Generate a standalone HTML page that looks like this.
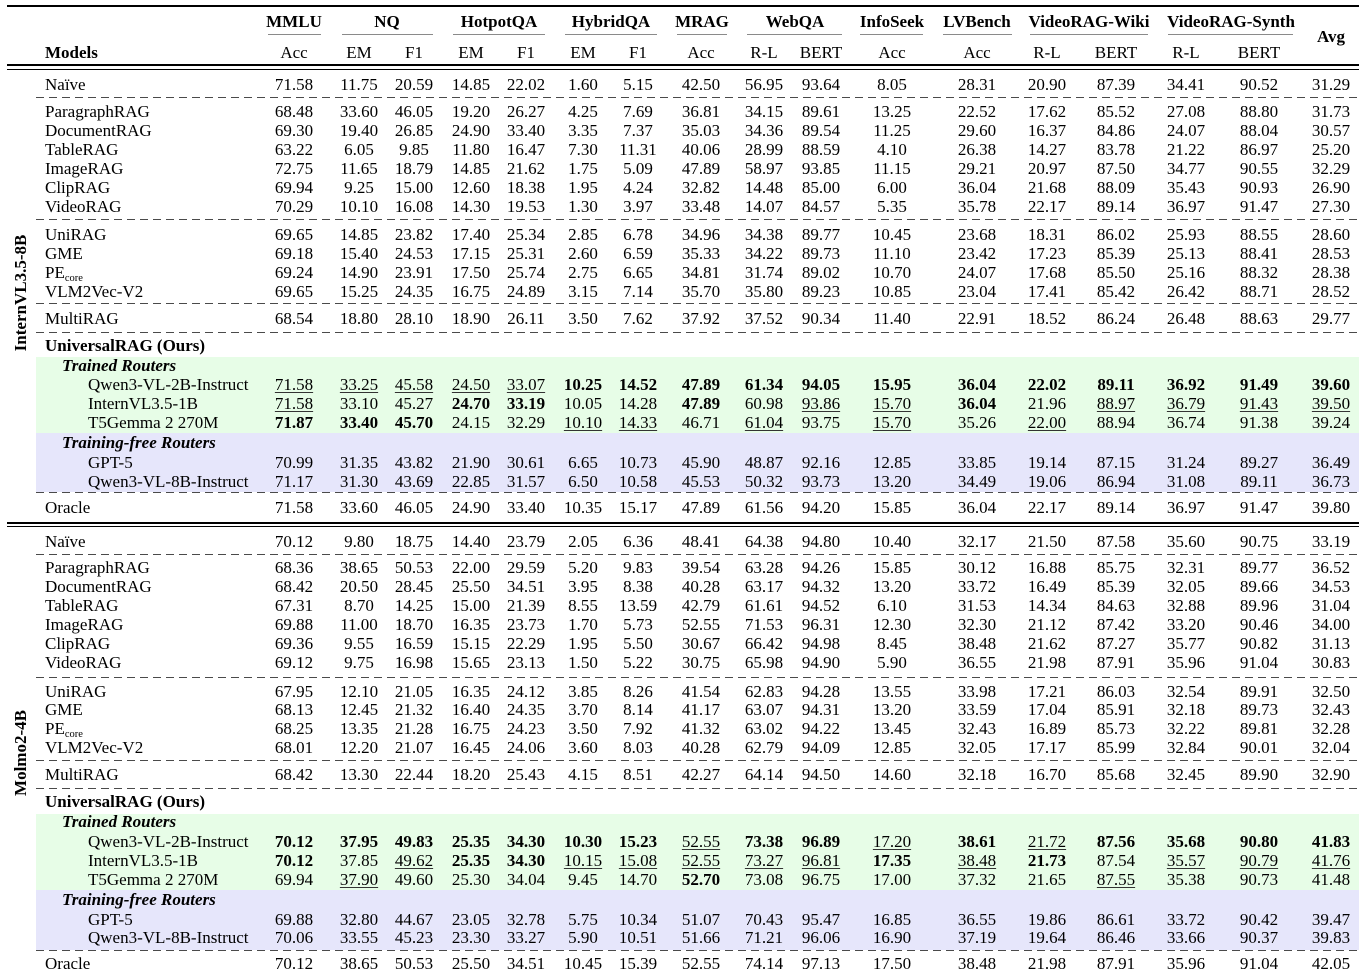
<!DOCTYPE html>
<html><head><meta charset="utf-8">
<style>
body{margin:0;width:1362px;height:975px;background:#fff;position:relative;overflow:hidden;font-family:"Liberation Serif","Times New Roman",serif;font-size:17px;color:#000}
.r{position:absolute;left:0;width:1362px;height:19px;line-height:19px;white-space:nowrap}
.r i{position:absolute;top:0;width:80px;margin-left:-40px;text-align:center;font-style:normal}
.r i:nth-of-type(1){left:294px}.r i:nth-of-type(2){left:359px}.r i:nth-of-type(3){left:414px}
.r i:nth-of-type(4){left:471px}.r i:nth-of-type(5){left:526px}.r i:nth-of-type(6){left:583px}
.r i:nth-of-type(7){left:638px}.r i:nth-of-type(8){left:701px}.r i:nth-of-type(9){left:764px}
.r i:nth-of-type(10){left:821px}.r i:nth-of-type(11){left:892px}.r i:nth-of-type(12){left:977px}
.r i:nth-of-type(13){left:1047px}.r i:nth-of-type(14){left:1116px}.r i:nth-of-type(15){left:1186px}
.r i:nth-of-type(16){left:1259px}.r i:nth-of-type(17){left:1331px}
.r span{position:absolute;left:45px;top:0}
.r span.s{left:88px}
.r span.g{left:62px;font-weight:bold;font-style:italic}
.r span.bb{font-weight:bold}
u{text-decoration:underline;text-decoration-thickness:1px;text-underline-offset:2px;text-decoration-color:#333}
sub{font-size:10.5px;vertical-align:-3px;line-height:0}
.hd{position:absolute;height:19px;line-height:19px;width:160px;margin-left:-80px;text-align:center;font-weight:bold;white-space:nowrap}
.sh{position:absolute;height:19px;line-height:19px;width:80px;margin-left:-40px;text-align:center;top:42.5px}
.ln{position:absolute;background:#000}
.cm{position:absolute;top:34px;height:1.3px;background:#8a8a8a}
.d{position:absolute;left:36px;width:1323px;height:1.2px;background:repeating-linear-gradient(90deg,#4a4a4a 0 8px,transparent 8px 13px)}
.gr{position:absolute;left:36px;width:1323px;background:#e7fde7}
.bl{position:absolute;left:36px;width:1323px;background:#e6e6fb}
.rot{position:absolute;width:200px;height:20px;line-height:20px;text-align:center;font-weight:bold;transform:rotate(-90deg);white-space:nowrap}
</style></head><body>

<!-- backgrounds -->
<div class="gr" style="top:357px;height:76px"></div>
<div class="bl" style="top:433px;height:59px"></div>
<div class="gr" style="top:814px;height:76px"></div>
<div class="bl" style="top:890px;height:60px"></div>

<!-- rules -->
<div class="ln" style="left:7px;width:1352px;top:5px;height:2px"></div>
<div class="ln" style="left:7px;width:1352px;top:64px;height:2px"></div>
<div class="ln" style="left:7px;width:1352px;top:68.5px;height:1px"></div>
<div class="ln" style="left:7px;width:1352px;top:522px;height:2px"></div>
<div class="ln" style="left:7px;width:1352px;top:526px;height:1px"></div>

<div class="cm" style="left:268px;width:53px"></div>
<div class="cm" style="left:342px;width:91px"></div>
<div class="cm" style="left:453px;width:92px"></div>
<div class="cm" style="left:565px;width:92px"></div>
<div class="cm" style="left:677px;width:50px"></div>
<div class="cm" style="left:747px;width:95px"></div>
<div class="cm" style="left:860px;width:63px"></div>
<div class="cm" style="left:943px;width:69px"></div>
<div class="cm" style="left:1030px;width:118px"></div>
<div class="cm" style="left:1168px;width:125px"></div>

<div class="d" style="top:97px"></div>
<div class="d" style="top:219px"></div>
<div class="d" style="top:303px"></div>
<div class="d" style="top:332px"></div>
<div class="d" style="top:492px"></div>
<div class="d" style="top:554px"></div>
<div class="d" style="top:677px"></div>
<div class="d" style="top:760px"></div>
<div class="d" style="top:788px"></div>
<div class="d" style="top:950px"></div>

<!-- header -->
<div class="hd" style="left:294px;top:11.5px">MMLU</div>
<div class="hd" style="left:387px;top:11.5px">NQ</div>
<div class="hd" style="left:499px;top:11.5px">HotpotQA</div>
<div class="hd" style="left:611px;top:11.5px">HybridQA</div>
<div class="hd" style="left:702px;top:11.5px">MRAG</div>
<div class="hd" style="left:795px;top:11.5px">WebQA</div>
<div class="hd" style="left:892px;top:11.5px">InfoSeek</div>
<div class="hd" style="left:977px;top:11.5px">LVBench</div>
<div class="hd" style="left:1089px;top:11.5px">VideoRAG-Wiki</div>
<div class="hd" style="left:1231px;top:11.5px">VideoRAG-Synth</div>
<div class="hd" style="left:1331px;top:26.5px">Avg</div>
<div style="position:absolute;left:45px;top:42.5px;height:19px;line-height:19px;font-weight:bold">Models</div>
<div class="sh" style="left:294px">Acc</div>
<div class="sh" style="left:359px">EM</div>
<div class="sh" style="left:414px">F1</div>
<div class="sh" style="left:471px">EM</div>
<div class="sh" style="left:526px">F1</div>
<div class="sh" style="left:583px">EM</div>
<div class="sh" style="left:638px">F1</div>
<div class="sh" style="left:701px">Acc</div>
<div class="sh" style="left:764px">R-L</div>
<div class="sh" style="left:821px">BERT</div>
<div class="sh" style="left:892px">Acc</div>
<div class="sh" style="left:977px">Acc</div>
<div class="sh" style="left:1047px">R-L</div>
<div class="sh" style="left:1116px">BERT</div>
<div class="sh" style="left:1186px">R-L</div>
<div class="sh" style="left:1259px">BERT</div>

<!-- rotated labels -->
<div class="rot" style="left:-79px;top:283px">InternVL3.5-8B</div>
<div class="rot" style="left:-79px;top:743px">Molmo2-4B</div>

<!-- Section 1 -->
<div class="r" style="top:75px"><span>Naïve</span><i>71.58</i><i>11.75</i><i>20.59</i><i>14.85</i><i>22.02</i><i>1.60</i><i>5.15</i><i>42.50</i><i>56.95</i><i>93.64</i><i>8.05</i><i>28.31</i><i>20.90</i><i>87.39</i><i>34.41</i><i>90.52</i><i>31.29</i></div>
<div class="r" style="top:101.5px"><span>ParagraphRAG</span><i>68.48</i><i>33.60</i><i>46.05</i><i>19.20</i><i>26.27</i><i>4.25</i><i>7.69</i><i>36.81</i><i>34.15</i><i>89.61</i><i>13.25</i><i>22.52</i><i>17.62</i><i>85.52</i><i>27.08</i><i>88.80</i><i>31.73</i></div>
<div class="r" style="top:120.5px"><span>DocumentRAG</span><i>69.30</i><i>19.40</i><i>26.85</i><i>24.90</i><i>33.40</i><i>3.35</i><i>7.37</i><i>35.03</i><i>34.36</i><i>89.54</i><i>11.25</i><i>29.60</i><i>16.37</i><i>84.86</i><i>24.07</i><i>88.04</i><i>30.57</i></div>
<div class="r" style="top:139.5px"><span>TableRAG</span><i>63.22</i><i>6.05</i><i>9.85</i><i>11.80</i><i>16.47</i><i>7.30</i><i>11.31</i><i>40.06</i><i>28.99</i><i>88.59</i><i>4.10</i><i>26.38</i><i>14.27</i><i>83.78</i><i>21.22</i><i>86.97</i><i>25.20</i></div>
<div class="r" style="top:158.5px"><span>ImageRAG</span><i>72.75</i><i>11.65</i><i>18.79</i><i>14.85</i><i>21.62</i><i>1.75</i><i>5.09</i><i>47.89</i><i>58.97</i><i>93.85</i><i>11.15</i><i>29.21</i><i>20.97</i><i>87.50</i><i>34.77</i><i>90.55</i><i>32.29</i></div>
<div class="r" style="top:177.5px"><span>ClipRAG</span><i>69.94</i><i>9.25</i><i>15.00</i><i>12.60</i><i>18.38</i><i>1.95</i><i>4.24</i><i>32.82</i><i>14.48</i><i>85.00</i><i>6.00</i><i>36.04</i><i>21.68</i><i>88.09</i><i>35.43</i><i>90.93</i><i>26.90</i></div>
<div class="r" style="top:196.5px"><span>VideoRAG</span><i>70.29</i><i>10.10</i><i>16.08</i><i>14.30</i><i>19.53</i><i>1.30</i><i>3.97</i><i>33.48</i><i>14.07</i><i>84.57</i><i>5.35</i><i>35.78</i><i>22.17</i><i>89.14</i><i>36.97</i><i>91.47</i><i>27.30</i></div>
<div class="r" style="top:225px"><span>UniRAG</span><i>69.65</i><i>14.85</i><i>23.82</i><i>17.40</i><i>25.34</i><i>2.85</i><i>6.78</i><i>34.96</i><i>34.38</i><i>89.77</i><i>10.45</i><i>23.68</i><i>18.31</i><i>86.02</i><i>25.93</i><i>88.55</i><i>28.60</i></div>
<div class="r" style="top:243.5px"><span>GME</span><i>69.18</i><i>15.40</i><i>24.53</i><i>17.15</i><i>25.31</i><i>2.60</i><i>6.59</i><i>35.33</i><i>34.22</i><i>89.73</i><i>11.10</i><i>23.42</i><i>17.23</i><i>85.39</i><i>25.13</i><i>88.41</i><i>28.53</i></div>
<div class="r" style="top:262.5px"><span>PE<sub>core</sub></span><i>69.24</i><i>14.90</i><i>23.91</i><i>17.50</i><i>25.74</i><i>2.75</i><i>6.65</i><i>34.81</i><i>31.74</i><i>89.02</i><i>10.70</i><i>24.07</i><i>17.68</i><i>85.50</i><i>25.16</i><i>88.32</i><i>28.38</i></div>
<div class="r" style="top:281.5px"><span>VLM2Vec-V2</span><i>69.65</i><i>15.25</i><i>24.35</i><i>16.75</i><i>24.89</i><i>3.15</i><i>7.14</i><i>35.70</i><i>35.80</i><i>89.23</i><i>10.85</i><i>23.04</i><i>17.41</i><i>85.42</i><i>26.42</i><i>88.71</i><i>28.52</i></div>
<div class="r" style="top:308.5px"><span>MultiRAG</span><i>68.54</i><i>18.80</i><i>28.10</i><i>18.90</i><i>26.11</i><i>3.50</i><i>7.62</i><i>37.92</i><i>37.52</i><i>90.34</i><i>11.40</i><i>22.91</i><i>18.52</i><i>86.24</i><i>26.48</i><i>88.63</i><i>29.77</i></div>
<div class="r" style="top:335.5px"><span class="bb">UniversalRAG (Ours)</span></div>
<div class="r" style="top:355.5px"><span class="g">Trained Routers</span></div>
<div class="r" style="top:374.5px"><span class="s">Qwen3-VL-2B-Instruct</span><i><u>71.58</u></i><i><u>33.25</u></i><i><u>45.58</u></i><i><u>24.50</u></i><i><u>33.07</u></i><i><b>10.25</b></i><i><b>14.52</b></i><i><b>47.89</b></i><i><b>61.34</b></i><i><b>94.05</b></i><i><b>15.95</b></i><i><b>36.04</b></i><i><b>22.02</b></i><i><b>89.11</b></i><i><b>36.92</b></i><i><b>91.49</b></i><i><b>39.60</b></i></div>
<div class="r" style="top:393.5px"><span class="s">InternVL3.5-1B</span><i><u>71.58</u></i><i>33.10</i><i>45.27</i><i><b>24.70</b></i><i><b>33.19</b></i><i>10.05</i><i>14.28</i><i><b>47.89</b></i><i>60.98</i><i><u>93.86</u></i><i><u>15.70</u></i><i><b>36.04</b></i><i>21.96</i><i><u>88.97</u></i><i><u>36.79</u></i><i><u>91.43</u></i><i><u>39.50</u></i></div>
<div class="r" style="top:412.5px"><span class="s">T5Gemma 2 270M</span><i><b>71.87</b></i><i><b>33.40</b></i><i><b>45.70</b></i><i>24.15</i><i>32.29</i><i><u>10.10</u></i><i><u>14.33</u></i><i>46.71</i><i><u>61.04</u></i><i>93.75</i><i><u>15.70</u></i><i>35.26</i><i><u>22.00</u></i><i>88.94</i><i>36.74</i><i>91.38</i><i>39.24</i></div>
<div class="r" style="top:433px"><span class="g">Training-free Routers</span></div>
<div class="r" style="top:452.5px"><span class="s">GPT-5</span><i>70.99</i><i>31.35</i><i>43.82</i><i>21.90</i><i>30.61</i><i>6.65</i><i>10.73</i><i>45.90</i><i>48.87</i><i>92.16</i><i>12.85</i><i>33.85</i><i>19.14</i><i>87.15</i><i>31.24</i><i>89.27</i><i>36.49</i></div>
<div class="r" style="top:471.5px"><span class="s">Qwen3-VL-8B-Instruct</span><i>71.17</i><i>31.30</i><i>43.69</i><i>22.85</i><i>31.57</i><i>6.50</i><i>10.58</i><i>45.53</i><i>50.32</i><i>93.73</i><i>13.20</i><i>34.49</i><i>19.06</i><i>86.94</i><i>31.08</i><i>89.11</i><i>36.73</i></div>
<div class="r" style="top:498px"><span>Oracle</span><i>71.58</i><i>33.60</i><i>46.05</i><i>24.90</i><i>33.40</i><i>10.35</i><i>15.17</i><i>47.89</i><i>61.56</i><i>94.20</i><i>15.85</i><i>36.04</i><i>22.17</i><i>89.14</i><i>36.97</i><i>91.47</i><i>39.80</i></div>

<!-- Section 2 -->
<div class="r" style="top:531.5px"><span>Naïve</span><i>70.12</i><i>9.80</i><i>18.75</i><i>14.40</i><i>23.79</i><i>2.05</i><i>6.36</i><i>48.41</i><i>64.38</i><i>94.80</i><i>10.40</i><i>32.17</i><i>21.50</i><i>87.58</i><i>35.60</i><i>90.75</i><i>33.19</i></div>
<div class="r" style="top:558px"><span>ParagraphRAG</span><i>68.36</i><i>38.65</i><i>50.53</i><i>22.00</i><i>29.59</i><i>5.20</i><i>9.83</i><i>39.54</i><i>63.28</i><i>94.26</i><i>15.85</i><i>30.12</i><i>16.88</i><i>85.75</i><i>32.31</i><i>89.77</i><i>36.52</i></div>
<div class="r" style="top:577px"><span>DocumentRAG</span><i>68.42</i><i>20.50</i><i>28.45</i><i>25.50</i><i>34.51</i><i>3.95</i><i>8.38</i><i>40.28</i><i>63.17</i><i>94.32</i><i>13.20</i><i>33.72</i><i>16.49</i><i>85.39</i><i>32.05</i><i>89.66</i><i>34.53</i></div>
<div class="r" style="top:596px"><span>TableRAG</span><i>67.31</i><i>8.70</i><i>14.25</i><i>15.00</i><i>21.39</i><i>8.55</i><i>13.59</i><i>42.79</i><i>61.61</i><i>94.52</i><i>6.10</i><i>31.53</i><i>14.34</i><i>84.63</i><i>32.88</i><i>89.96</i><i>31.04</i></div>
<div class="r" style="top:615px"><span>ImageRAG</span><i>69.88</i><i>11.00</i><i>18.70</i><i>16.35</i><i>23.73</i><i>1.70</i><i>5.73</i><i>52.55</i><i>71.53</i><i>96.31</i><i>12.30</i><i>32.30</i><i>21.12</i><i>87.42</i><i>33.20</i><i>90.46</i><i>34.00</i></div>
<div class="r" style="top:634px"><span>ClipRAG</span><i>69.36</i><i>9.55</i><i>16.59</i><i>15.15</i><i>22.29</i><i>1.95</i><i>5.50</i><i>30.67</i><i>66.42</i><i>94.98</i><i>8.45</i><i>38.48</i><i>21.62</i><i>87.27</i><i>35.77</i><i>90.82</i><i>31.13</i></div>
<div class="r" style="top:653px"><span>VideoRAG</span><i>69.12</i><i>9.75</i><i>16.98</i><i>15.65</i><i>23.13</i><i>1.50</i><i>5.22</i><i>30.75</i><i>65.98</i><i>94.90</i><i>5.90</i><i>36.55</i><i>21.98</i><i>87.91</i><i>35.96</i><i>91.04</i><i>30.83</i></div>
<div class="r" style="top:681.5px"><span>UniRAG</span><i>67.95</i><i>12.10</i><i>21.05</i><i>16.35</i><i>24.12</i><i>3.85</i><i>8.26</i><i>41.54</i><i>62.83</i><i>94.28</i><i>13.55</i><i>33.98</i><i>17.21</i><i>86.03</i><i>32.54</i><i>89.91</i><i>32.50</i></div>
<div class="r" style="top:700px"><span>GME</span><i>68.13</i><i>12.45</i><i>21.32</i><i>16.40</i><i>24.35</i><i>3.70</i><i>8.14</i><i>41.17</i><i>63.07</i><i>94.31</i><i>13.20</i><i>33.59</i><i>17.04</i><i>85.91</i><i>32.18</i><i>89.73</i><i>32.43</i></div>
<div class="r" style="top:719px"><span>PE<sub>core</sub></span><i>68.25</i><i>13.35</i><i>21.28</i><i>16.75</i><i>24.23</i><i>3.50</i><i>7.92</i><i>41.32</i><i>63.02</i><i>94.22</i><i>13.45</i><i>32.43</i><i>16.89</i><i>85.73</i><i>32.22</i><i>89.81</i><i>32.28</i></div>
<div class="r" style="top:738px"><span>VLM2Vec-V2</span><i>68.01</i><i>12.20</i><i>21.07</i><i>16.45</i><i>24.06</i><i>3.60</i><i>8.03</i><i>40.28</i><i>62.79</i><i>94.09</i><i>12.85</i><i>32.05</i><i>17.17</i><i>85.99</i><i>32.84</i><i>90.01</i><i>32.04</i></div>
<div class="r" style="top:764.5px"><span>MultiRAG</span><i>68.42</i><i>13.30</i><i>22.44</i><i>18.20</i><i>25.43</i><i>4.15</i><i>8.51</i><i>42.27</i><i>64.14</i><i>94.50</i><i>14.60</i><i>32.18</i><i>16.70</i><i>85.68</i><i>32.45</i><i>89.90</i><i>32.90</i></div>
<div class="r" style="top:791.5px"><span class="bb">UniversalRAG (Ours)</span></div>
<div class="r" style="top:812px"><span class="g">Trained Routers</span></div>
<div class="r" style="top:831.5px"><span class="s">Qwen3-VL-2B-Instruct</span><i><b>70.12</b></i><i><b>37.95</b></i><i><b>49.83</b></i><i><b>25.35</b></i><i><b>34.30</b></i><i><b>10.30</b></i><i><b>15.23</b></i><i><u>52.55</u></i><i><b>73.38</b></i><i><b>96.89</b></i><i><u>17.20</u></i><i><b>38.61</b></i><i><u>21.72</u></i><i><b>87.56</b></i><i><b>35.68</b></i><i><b>90.80</b></i><i><b>41.83</b></i></div>
<div class="r" style="top:850.5px"><span class="s">InternVL3.5-1B</span><i><b>70.12</b></i><i>37.85</i><i><u>49.62</u></i><i><b>25.35</b></i><i><b>34.30</b></i><i><u>10.15</u></i><i><u>15.08</u></i><i><u>52.55</u></i><i><u>73.27</u></i><i><u>96.81</u></i><i><b>17.35</b></i><i><u>38.48</u></i><i><b>21.73</b></i><i>87.54</i><i><u>35.57</u></i><i><u>90.79</u></i><i><u>41.76</u></i></div>
<div class="r" style="top:869.5px"><span class="s">T5Gemma 2 270M</span><i>69.94</i><i><u>37.90</u></i><i>49.60</i><i>25.30</i><i>34.04</i><i>9.45</i><i>14.70</i><i><b>52.70</b></i><i>73.08</i><i>96.75</i><i>17.00</i><i>37.32</i><i>21.65</i><i><u>87.55</u></i><i>35.38</i><i>90.73</i><i>41.48</i></div>
<div class="r" style="top:890px"><span class="g">Training-free Routers</span></div>
<div class="r" style="top:909.5px"><span class="s">GPT-5</span><i>69.88</i><i>32.80</i><i>44.67</i><i>23.05</i><i>32.78</i><i>5.75</i><i>10.34</i><i>51.07</i><i>70.43</i><i>95.47</i><i>16.85</i><i>36.55</i><i>19.86</i><i>86.61</i><i>33.72</i><i>90.42</i><i>39.47</i></div>
<div class="r" style="top:928px"><span class="s">Qwen3-VL-8B-Instruct</span><i>70.06</i><i>33.55</i><i>45.23</i><i>23.30</i><i>33.27</i><i>5.90</i><i>10.51</i><i>51.66</i><i>71.21</i><i>96.06</i><i>16.90</i><i>37.19</i><i>19.64</i><i>86.46</i><i>33.66</i><i>90.37</i><i>39.83</i></div>
<div class="r" style="top:954px"><span>Oracle</span><i>70.12</i><i>38.65</i><i>50.53</i><i>25.50</i><i>34.51</i><i>10.45</i><i>15.39</i><i>52.55</i><i>74.14</i><i>97.13</i><i>17.50</i><i>38.48</i><i>21.98</i><i>87.91</i><i>35.96</i><i>91.04</i><i>42.05</i></div>

</body></html>
